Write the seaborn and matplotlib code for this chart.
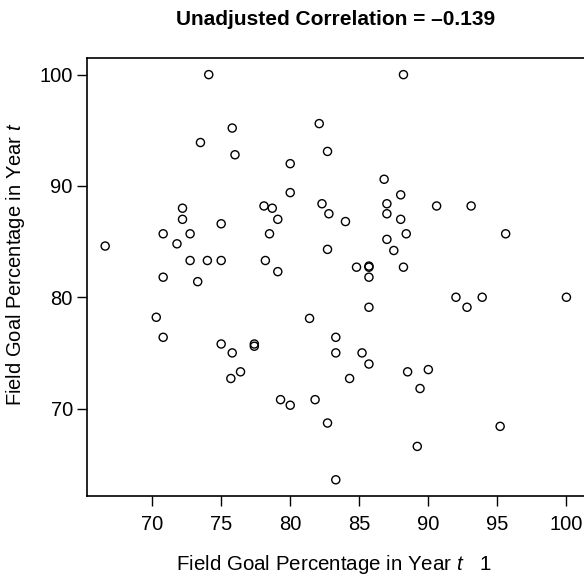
import numpy as np
import pandas as pd
import seaborn as sns
import matplotlib.pyplot as plt

# Field goal percentage, year t-1 (x) vs year t (y)
prev_year = [
    74.1, 75.8, 73.5, 76.0, 80.0, 80.0, 78.1, 78.7, 79.1, 78.5, 78.2, 79.1,
    72.2, 72.2, 75.0, 70.8, 72.75, 71.8, 66.6, 72.75, 74.0, 75.0, 70.8, 73.3,
    88.2, 82.1, 82.7, 86.8, 88.0, 82.3, 87.0, 90.6, 93.1, 82.8, 87.0, 84.0,
    88.0, 88.4, 95.6, 87.0, 82.7, 87.5, 84.8, 85.7, 85.7, 88.2, 85.7,
    70.3, 81.4, 70.8, 75.0, 77.4, 77.4, 75.8, 76.4, 75.7, 79.3, 80.0, 81.8,
    92.0, 93.9, 100.0, 92.8, 85.7, 83.3, 83.3, 85.2, 85.7, 88.5, 90.0, 84.3,
    89.4, 82.7, 95.2, 89.2, 83.3,
]
this_year = [
    100.0, 95.2, 93.9, 92.8, 92.0, 89.4, 88.2, 88.0, 87.0, 85.7, 83.3, 82.3,
    88.0, 87.0, 86.6, 85.7, 85.7, 84.8, 84.6, 83.3, 83.3, 83.3, 81.8, 81.4,
    100.0, 95.6, 93.1, 90.6, 89.2, 88.4, 88.4, 88.2, 88.2, 87.5, 87.5, 86.8,
    87.0, 85.7, 85.7, 85.2, 84.3, 84.2, 82.7, 82.8, 82.7, 82.7, 81.8,
    78.2, 78.1, 76.4, 75.8, 75.8, 75.6, 75.0, 73.3, 72.7, 70.8, 70.3, 70.8,
    80.0, 80.0, 80.0, 79.1, 79.1, 76.4, 75.0, 75.0, 74.0, 73.3, 73.5, 72.7,
    71.8, 68.7, 68.4, 66.6, 63.6,
]
x_ticks = [70, 75, 80, 85, 90, 95, 100]
y_ticks = [70, 80, 90, 100]

df = pd.DataFrame({"prev": prev_year, "curr": this_year})

sns.set_style("ticks")
plt.rcParams["font.family"] = ["Liberation Sans", "DejaVu Sans"]
plt.rcParams["mathtext.fontset"] = "custom"
plt.rcParams["mathtext.it"] = "Liberation Sans:italic"
plt.rcParams["mathtext.rm"] = "Liberation Sans"
plt.rcParams["text.color"] = "black"
plt.rcParams["axes.labelcolor"] = "black"
plt.rcParams["xtick.color"] = "black"
plt.rcParams["ytick.color"] = "black"

fig = plt.figure(figsize=(5.84, 5.75), dpi=100)
ax = fig.add_axes([0.1485, 0.1374, 0.853, 0.761])

sns.scatterplot(data=df, x="prev", y="curr", ax=ax, s=34,
                facecolor="none", edgecolor="black", linewidth=1.0,
                legend=False)

# R-style 4% padding
xr = max(prev_year) - min(prev_year)
yr = max(this_year) - min(this_year)
ax.set_xlim(min(prev_year) - 0.04 * xr, max(prev_year) + 0.04 * xr)
ax.set_ylim(min(this_year) - 0.04 * yr, max(this_year) + 0.04 * yr)

ax.set_xticks(x_ticks)
ax.set_yticks(y_ticks)
ax.tick_params(axis="both", direction="out", length=7, width=1.0,
               labelsize=14.5, color="black", labelcolor="black")
ax.tick_params(axis="x", pad=7)
ax.tick_params(axis="y", pad=3)
for sp in ax.spines.values():
    sp.set_visible(True)
    sp.set_linewidth(1.2)
    sp.set_color("black")

ax.set_xlabel("Field Goal Percentage in Year $t$   1", fontsize=14.8)
ax.set_ylabel("Field Goal Percentage in Year $t$", fontsize=14.5)
ax.xaxis.set_label_coords(0.495, -0.13)
ax.yaxis.set_label_coords(-0.12, 0.53)
ax.set_title("Unadjusted Correlation = \u20130.139", fontsize=15,
             fontweight="bold", pad=24)

plt.savefig("out.png", dpi=100)
